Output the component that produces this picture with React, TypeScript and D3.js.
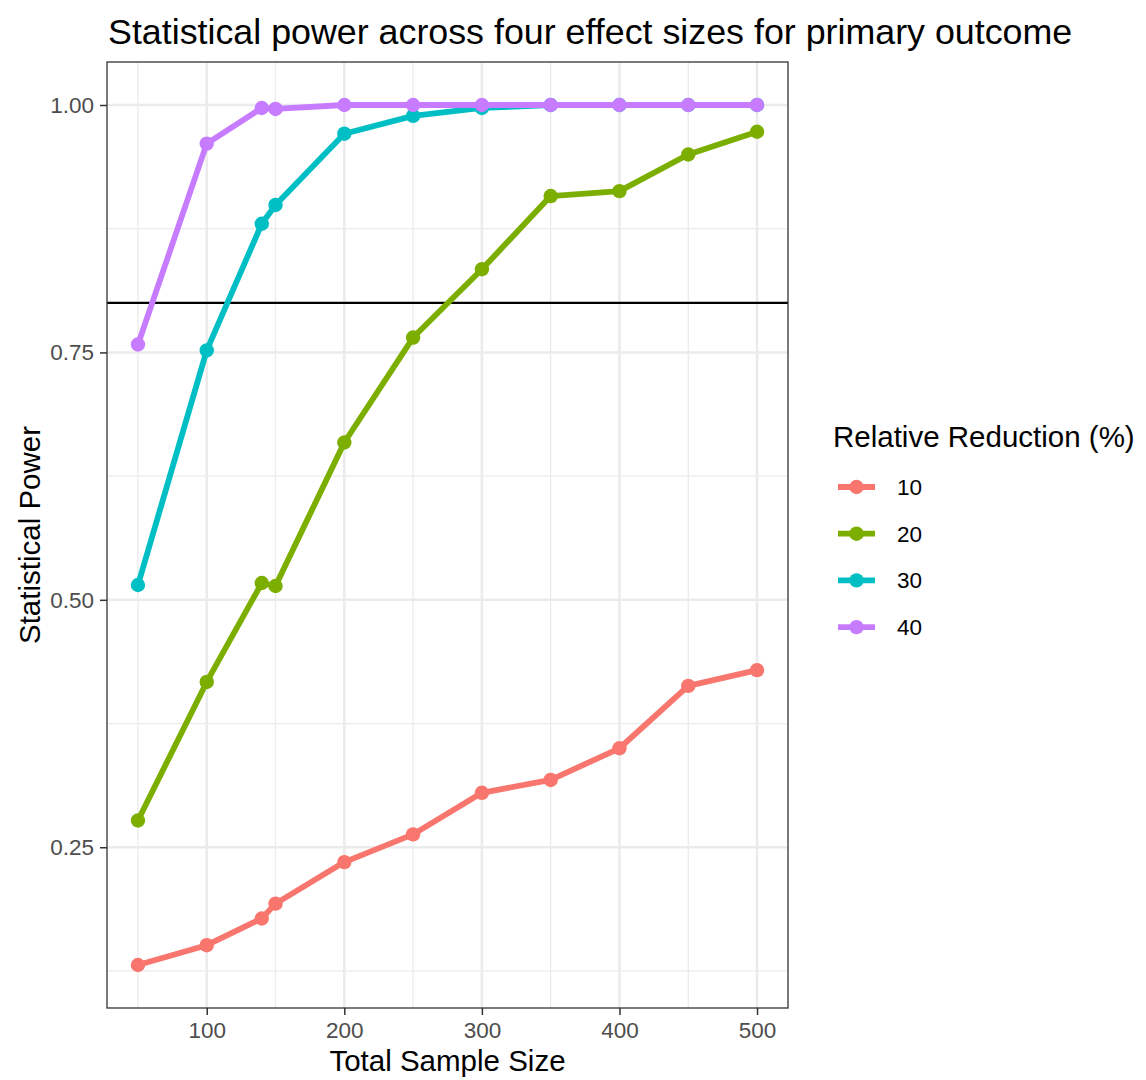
import React, { useEffect, useRef } from 'react';
import * as d3 from 'd3';

const sampleSizes = [50, 100, 140, 150, 200, 250, 300, 350, 400, 450, 500];
const reductions = ['10', '20', '30', '40'];
const colors = ['#F8766D', '#7CAE00', '#00BFC4', '#C77CFF'];

const power10 = [0.131, 0.151, 0.178, 0.193, 0.235, 0.263, 0.305, 0.318, 0.350, 0.413, 0.429];
const power20 = [0.277, 0.417, 0.517, 0.514, 0.659, 0.765, 0.834, 0.908, 0.913, 0.950, 0.973];
const power30 = [0.515, 0.752, 0.880, 0.899, 0.971, 0.989, 0.997, 1.0, 1.0, 1.0, 1.0];
const power40 = [0.758, 0.961, 0.997, 0.996, 1.0, 1.0, 1.0, 1.0, 1.0, 1.0, 1.0];

const xTicks = [100, 200, 300, 400, 500];
const xMinor = [50, 150, 250, 350, 450];
const yTicks = [0.25, 0.5, 0.75, 1.0];
const yMinor = [0.125, 0.375, 0.625, 0.875];
const targetPower = 0.8;

const App = () => {
  const svgRef = useRef<SVGSVGElement>(null);

  useEffect(() => {
    const width = 1146;
    const height = 1080;
    const margin = { top: 62, left: 107, right: 358, bottom: 72 };
    const innerWidth = width - margin.left - margin.right;
    const innerHeight = height - margin.top - margin.bottom;
    const font = 'Liberation Sans, Arial, sans-serif';

    const svg = d3.select(svgRef.current);
    svg.selectAll('*').remove();
    svg.attr('width', width).attr('height', height);

    const series = [power10, power20, power30, power40].map((vals, i) => ({
      key: reductions[i],
      color: colors[i],
      values: vals.map((v, j) => ({ n: sampleSizes[j], p: v }))
    }));

    const allP = series.flatMap(s => s.values.map(d => d.p));
    const xMin = d3.min(sampleSizes)!;
    const xMax = d3.max(sampleSizes)!;
    const yMin = d3.min(allP)!;
    const yMax = d3.max(allP)!;
    const xPad = (xMax - xMin) * 0.05;
    const yPad = (yMax - yMin) * 0.05;

    const x = d3.scaleLinear().domain([xMin - xPad, xMax + xPad]).range([0, innerWidth]);
    const y = d3.scaleLinear().domain([yMin - yPad, yMax + yPad]).range([innerHeight, 0]);

    svg.append('text')
      .attr('x', margin.left + 1)
      .attr('y', 44)
      .attr('font-family', font)
      .attr('font-size', 35.8)
      .attr('fill', '#000')
      .text('Statistical power across four effect sizes for primary outcome');

    const chart = svg.append('g').attr('transform', `translate(${margin.left},${margin.top})`);

    chart.append('rect')
      .attr('width', innerWidth)
      .attr('height', innerHeight)
      .attr('fill', '#fff');

    // minor grid
    chart.selectAll('line.xminor').data(xMinor).enter().append('line')
      .attr('x1', d => x(d)).attr('x2', d => x(d))
      .attr('y1', 0).attr('y2', innerHeight)
      .attr('stroke', '#EBEBEB').attr('stroke-width', 1.3);
    chart.selectAll('line.yminor').data(yMinor).enter().append('line')
      .attr('y1', d => y(d)).attr('y2', d => y(d))
      .attr('x1', 0).attr('x2', innerWidth)
      .attr('stroke', '#EBEBEB').attr('stroke-width', 1.3);

    // major grid
    chart.selectAll('line.xmajor').data(xTicks).enter().append('line')
      .attr('x1', d => x(d)).attr('x2', d => x(d))
      .attr('y1', 0).attr('y2', innerHeight)
      .attr('stroke', '#EBEBEB').attr('stroke-width', 2.5);
    chart.selectAll('line.ymajor').data(yTicks).enter().append('line')
      .attr('y1', d => y(d)).attr('y2', d => y(d))
      .attr('x1', 0).attr('x2', innerWidth)
      .attr('stroke', '#EBEBEB').attr('stroke-width', 2.5);

    // reference line at 0.8
    chart.append('line')
      .attr('x1', 0).attr('x2', innerWidth)
      .attr('y1', y(targetPower)).attr('y2', y(targetPower))
      .attr('stroke', '#000').attr('stroke-width', 2.2);

    const line = d3.line<{ n: number; p: number }>()
      .x(d => x(d.n))
      .y(d => y(d.p));

    series.forEach(s => {
      chart.append('path')
        .datum(s.values)
        .attr('d', line)
        .attr('fill', 'none')
        .attr('stroke', s.color)
        .attr('stroke-width', 5.8)
        .attr('stroke-linejoin', 'round');
      chart.selectAll(null).data(s.values).enter().append('circle')
        .attr('cx', d => x(d.n))
        .attr('cy', d => y(d.p))
        .attr('r', 7.2)
        .attr('fill', s.color);
    });

    // panel border
    chart.append('rect')
      .attr('width', innerWidth)
      .attr('height', innerHeight)
      .attr('fill', 'none')
      .attr('stroke', '#333')
      .attr('stroke-width', 1.3);

    // axes
    const xAxis = chart.append('g')
      .attr('transform', `translate(0,${innerHeight})`)
      .call(d3.axisBottom(x).tickValues(xTicks).tickSize(7).tickPadding(7).tickFormat(d3.format('d')));
    const yAxis = chart.append('g')
      .call(d3.axisLeft(y).tickValues(yTicks).tickSize(7).tickPadding(6).tickFormat(d3.format('.2f')));
    [xAxis, yAxis].forEach(ax => {
      ax.select('.domain').remove();
      ax.selectAll('line').attr('stroke', '#333').attr('stroke-width', 1.5);
      ax.selectAll('text')
        .attr('font-family', font)
        .attr('font-size', 22.5)
        .attr('fill', '#4D4D4D');
    });

    svg.append('text')
      .attr('x', margin.left + innerWidth / 2)
      .attr('y', 1071)
      .attr('text-anchor', 'middle')
      .attr('font-family', font)
      .attr('font-size', 29.5)
      .attr('fill', '#000')
      .text('Total Sample Size');

    svg.append('text')
      .attr('transform', `translate(40,${margin.top + innerHeight / 2}) rotate(-90)`)
      .attr('text-anchor', 'middle')
      .attr('font-family', font)
      .attr('font-size', 29.5)
      .attr('fill', '#000')
      .text('Statistical Power');

    // legend
    const legend = svg.append('g').attr('transform', 'translate(833,0)');
    legend.append('text')
      .attr('x', 0)
      .attr('y', 447)
      .attr('font-family', font)
      .attr('font-size', 29.5)
      .attr('fill', '#000')
      .text('Relative Reduction (%)');

    series.forEach((s, i) => {
      const cy = 487 + i * 46.7;
      legend.append('line')
        .attr('x1', 5).attr('x2', 42)
        .attr('y1', cy).attr('y2', cy)
        .attr('stroke', s.color).attr('stroke-width', 5.8);
      legend.append('circle')
        .attr('cx', 23.5).attr('cy', cy).attr('r', 7.2)
        .attr('fill', s.color);
      legend.append('text')
        .attr('x', 64)
        .attr('y', cy + 8)
        .attr('font-family', font)
        .attr('font-size', 22.5)
        .attr('fill', '#000')
        .text(s.key);
    });
  }, []);

  return <svg ref={svgRef} style={{ display: 'block', position: 'absolute', left: 0, top: 0 }}></svg>;
};

export default App;
